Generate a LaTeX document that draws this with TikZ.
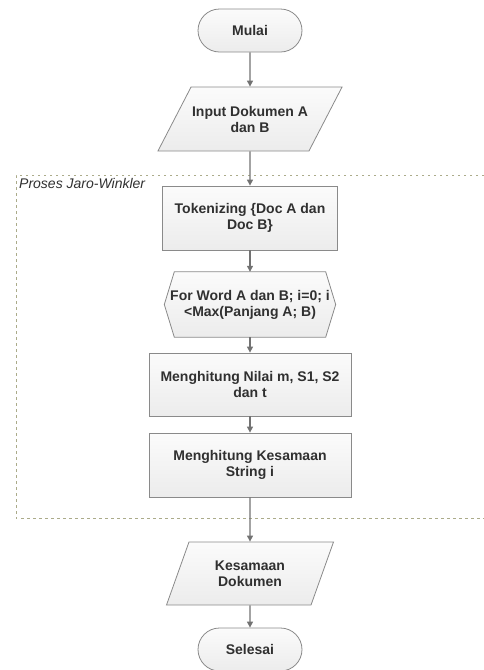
\documentclass[tikz,border=0pt]{standalone}
\usepackage{fontspec}
\setmainfont{Liberation Sans}
\usetikzlibrary{arrows.meta,positioning,shapes.geometric,shapes.misc,backgrounds}
\definecolor{boxline}{HTML}{8A8A8A}
\definecolor{boxtext}{HTML}{303030}
\definecolor{flowline}{HTML}{727272}
\definecolor{groupline}{HTML}{ABAB8A}

\begin{document}
\begin{tikzpicture}[
  x=1pt, y=-1pt,
  >={Triangle[length=6pt,width=6pt]},
  base/.style={draw=boxline, line width=0.8pt, top color=gray!3,
               bottom color=gray!15, text=boxtext, align=center,
               font=\fontsize{14}{16}\selectfont\bfseries, inner sep=1pt},
  terminal/.style={base, rounded rectangle, minimum width=106pt,
                   minimum height=43pt},
  process/.style={base, rectangle, minimum height=64pt},
  iobox/.style={base, trapezium, trapezium stretches body,
                inner ysep=18pt, minimum height=64pt},
  looptext/.style={text=boxtext, align=center, inner sep=0pt,
                   font=\fontsize{14}{16}\selectfont\bfseries,
                   minimum width=171pt, minimum height=65pt},
  loopshape/.style={draw=boxline, line width=0.8pt, top color=gray!3,
                    bottom color=gray!15},
  flow/.style={->, draw=flowline, line width=1.1pt},
  group/.style={draw=groupline, line width=0.9pt,
                dash pattern=on 2.5pt off 3.5pt},
  grouplabel/.style={font=\fontsize{14}{16}\selectfont\itshape,
                     text=boxtext, anchor=north west, inner sep=0pt}
]
  \useasboundingbox (0,0) rectangle (484,670);

  % Jaro-Winkler group frame (open on the right)
  \draw[group] (490,175) -- (16,175) -- (16,518) -- (490,518);
  \node[grouplabel] (groupname) at (19,178) {Proses Jaro-Winkler};

  % Flow nodes
  \node[terminal] (mulai) at (250,30.5) {Mulai};
  \node[iobox, trapezium left angle=62, trapezium right angle=118,
        minimum width=166pt] (input) at (250,119)
       {Input Dokumen A\\dan B};
  \node[process, minimum width=175pt] (token) at (250,218)
       {Tokenizing \{Doc A dan\\Doc B\}};
  \node[looptext] (loop) at (250,304.5)
       {For Word A dan B; i=0; i\\<Max(Panjang A; B)};
  \node[process, minimum width=202pt, minimum height=63pt] (nilai)
       at (250,384.5) {Menghitung Nilai m, S1, S2\\dan t};
  \node[process, minimum width=202pt] (kesamaan) at (250,465)
       {Menghitung Kesamaan\\String i};
  \node[iobox, trapezium left angle=70, trapezium right angle=110,
        minimum width=167pt, minimum height=63pt] (hasil) at (250,573.5)
       {Kesamaan\\Dokumen};
  \node[terminal] (selesai) at (250,649.5) {Selesai};

  % hexagon behind the loop text
  \begin{scope}[on background layer]
    \draw[loopshape] (loop.west) -- ([xshift=10pt]loop.north west)
      -- ([xshift=-10pt]loop.north east) -- (loop.east)
      -- ([xshift=-10pt]loop.south east)
      -- ([xshift=10pt]loop.south west) -- cycle;
  \end{scope}

  % Connectors
  \draw[flow] (mulai) -- (input);
  \draw[flow] (input) -- (token);
  \draw[flow] (token) -- (loop);
  \draw[flow] (loop) -- (nilai);
  \draw[flow] (nilai) -- (kesamaan);
  \draw[flow] (kesamaan) -- (hasil);
  \draw[flow] (hasil) -- (selesai);
\end{tikzpicture}
\end{document}
